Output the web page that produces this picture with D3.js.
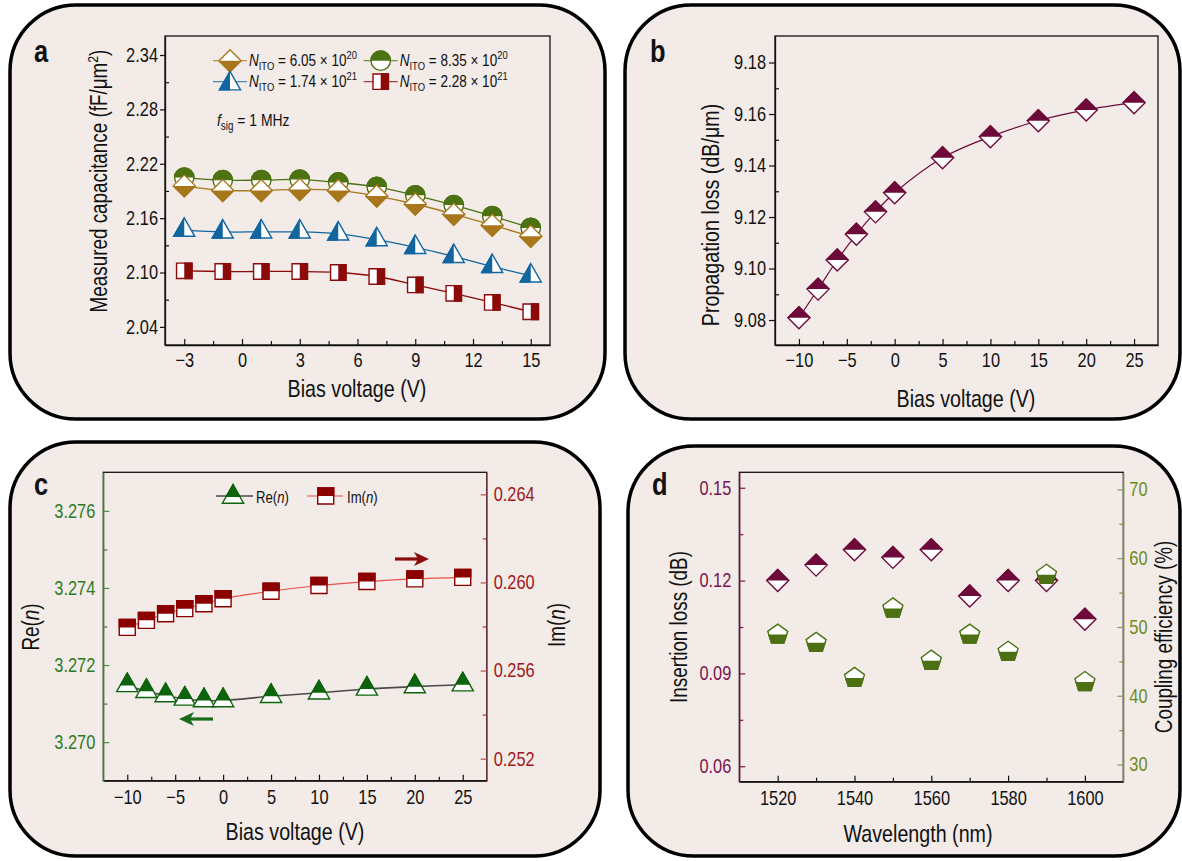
<!DOCTYPE html>
<html lang="en">
<head>
  <meta charset="utf-8"/>
  <title>ITO modulator panels</title>
  <style>
    body { margin: 0; background: #fff; }
    svg text { font-family: "Liberation Sans Narrow", "Arial Narrow", "Liberation Sans", Arial, sans-serif; }
  </style>
</head>
<body>

<svg id="chart" width="1182" height="861"></svg>

<script src="https://cdn.jsdelivr.net/npm/d3@7/dist/d3.min.js"></script>
<script>

  // ---- data, panel a (capacitance vs bias)
  let biasA = [-3, -1, 1, 3, 5, 7, 9, 11, 13, 15];
  let cap605 = [2.1956, 2.1906, 2.1906, 2.1917, 2.1906, 2.1844, 2.1756, 2.1644, 2.1522, 2.1400];
  let cap835 = [2.2048, 2.2019, 2.2019, 2.2026, 2.1993, 2.1944, 2.1852, 2.1744, 2.1622, 2.1492];
  let cap174 = [2.1467, 2.1448, 2.1448, 2.1448, 2.1426, 2.1363, 2.1278, 2.1178, 2.1067, 2.0963];
  let cap228 = [2.1019, 2.1011, 2.1011, 2.1011, 2.1000, 2.0956, 2.0863, 2.0770, 2.0670, 2.0567];
  let ticksAx = [-3, 0, 3, 6, 9, 12, 15];
  let ticksAy = [2.04, 2.10, 2.16, 2.22, 2.28, 2.34];

  // ---- data, panel b (propagation loss)
  let biasB = [-10, -8, -6, -4, -2, 0, 5, 10, 15, 20, 25];
  let lossB = [9.0809, 9.0920, 9.1033, 9.1133, 9.1220, 9.1294, 9.1430, 9.1512, 9.1574, 9.1616, 9.1644];
  let ticksBx = [-10, -5, 0, 5, 10, 15, 20, 25];
  let ticksBy = [9.08, 9.10, 9.12, 9.14, 9.16, 9.18];

  // ---- data, panel c (refractive index)
  let biasC = [-10, -8, -6, -4, -2, 0, 5, 10, 15, 20, 25];
  let reN = [3.27147, 3.27132, 3.27121, 3.27112, 3.27108, 3.27108, 3.27119, 3.27128, 3.27138, 3.27144, 3.27149];
  let imN = [0.25796, 0.25828, 0.25858, 0.25881, 0.25903, 0.25926, 0.25960, 0.25986, 0.26004, 0.26016, 0.26023];
  let ticksCyL = [3.270, 3.272, 3.274, 3.276];
  let ticksCyR = [0.252, 0.256, 0.260, 0.264];

  // ---- data, panel d (insertion loss / coupling)
  let wavelength = [1520, 1530, 1540, 1550, 1560, 1570, 1580, 1590, 1600];
  let insertionLoss = [0.120, 0.125, 0.130, 0.1275, 0.130, 0.115, 0.120, 0.120, 0.1075];
  let couplingEff = [48.9, 47.7, 42.6, 52.7, 45.1, 48.9, 46.4, 57.6, 42.0];
  let ticksDx = [1520, 1540, 1560, 1580, 1600];
  let ticksDyL = [0.06, 0.09, 0.12, 0.15];
  let ticksDyR = [30, 40, 50, 60, 70];

  let legendA = [['6.05', '20'], ['8.35', '20'], ['1.74', '21'], ['2.28', '21']];

  let svg = d3.select('#chart');
  let bg = '#f2ebe8';
  let narrow = 0.82; // no narrow face installed, so squeeze the glyphs instead

  // half clip regions for the split markers
  let defs = svg.append('defs');
  [['top', -40, -40, 80, 40], ['bottom', -40, 0, 80, 40], ['left', -40, -40, 40, 80], ['right', 0, -40, 40, 80]]
    .forEach(function (c) {
      defs.append('clipPath').attr('id', 'half-' + c[0])
        .append('rect').attr('x', c[1]).attr('y', c[2]).attr('width', c[3]).attr('height', c[4]);
    });

  function shapePath(shape, s) {
    if (shape === 'diamond') return `M0,${-s}L${s},0L0,${s}L${-s},0Z`;
    if (shape === 'circle') return `M${-s},0A${s},${s} 0 1,1 ${s},0A${s},${s} 0 1,1 ${-s},0Z`;
    if (shape === 'square') return `M${-s},${-s}H${s}V${s}H${-s}Z`;
    if (shape === 'triangle') {
      let h = s * 1.75;
      return `M0,${-h * 2 / 3}L${s},${h / 3}L${-s},${h / 3}Z`;
    }
    if (shape === 'pentagon') {
      let pts = d3.range(5).map(function (k) {
        let a = -Math.PI / 2 + k * 2 * Math.PI / 5;
        return [s * Math.cos(a), s * Math.sin(a)];
      });
      return 'M' + pts.join('L') + 'Z';
    }
  }

  function drawMarker(g, cx, cy, m) {
    let node = g.append('g').attr('transform', `translate(${cx},${cy})`);
    let d = shapePath(m.shape, m.size);
    node.append('path').attr('d', d).attr('fill', '#fff')
      .attr('stroke', m.color).attr('stroke-width', 1.4);
    node.append('path').attr('d', d).attr('fill', m.color)
      .attr('stroke', m.color).attr('stroke-width', 1.4)
      .attr('clip-path', `url(#half-${m.half})`);
  }

  function drawSeries(g, xs, ys, x, y, m, lineColor, lineWidth) {
    let pts = xs.map((v, i) => [x(v), y(ys[i])]);
    if (lineColor) {
      g.append('path')
        .attr('d', d3.line().curve(d3.curveCatmullRom.alpha(0.5))(pts))
        .attr('fill', 'none').attr('stroke', lineColor).attr('stroke-width', lineWidth || 1.3);
    }
    pts.forEach(p => drawMarker(g, p[0], p[1], m));
  }

  function panelBox(x, y, w, h, r) {
    svg.append('rect').attr('x', x).attr('y', y).attr('width', w).attr('height', h)
      .attr('rx', r).attr('ry', r)
      .attr('fill', bg).attr('stroke', '#000').attr('stroke-width', 3.5);
  }

  function addAxis(axis, tx, ty, color, labelColor, size) {
    let sel = svg.append('g').attr('transform', `translate(${tx},${ty})`).call(axis);
    sel.attr('font-size', null).attr('font-family', null);
    sel.select('.domain').attr('stroke', color).attr('stroke-width', 1.3);
    sel.selectAll('.tick line').attr('stroke', color).attr('stroke-width', 1.2);
    sel.selectAll('.tick text').attr('fill', labelColor).style('font-size', (size || 20) + 'px');
    return sel;
  }

  function minorAxis(axis, tx, ty, color) {
    let sel = addAxis(axis.tickFormat('').tickSizeOuter(0), tx, ty, color, color);
    sel.select('.domain').remove();
    return sel;
  }

  function frame(x0, y0, x1, y1) {
    svg.append('rect').attr('x', x0).attr('y', y0).attr('width', x1 - x0).attr('height', y1 - y0)
      .attr('fill', 'none').attr('stroke', '#111').attr('stroke-width', 1.3);
  }

  function vLabel(x, y, size) {
    return svg.append('text').attr('transform', `translate(${x},${y}) rotate(-90)`)
      .attr('text-anchor', 'middle').style('font-size', size + 'px').attr('fill', '#111');
  }

  function hLabel(x, y, text) {
    svg.append('text').attr('x', x).attr('y', y).attr('text-anchor', 'middle')
      .style('font-size', '24px').attr('fill', '#111').text(text);
  }

  function panelLetter(x, y, t) {
    svg.append('text').attr('x', x).attr('y', y).style('font-size', '31px')
      .style('font-weight', 'bold').attr('fill', '#111').text(t);
  }

  function arrow(x0, x1, y, color) {
    let dir = x1 > x0 ? 1 : -1;
    svg.append('line').attr('x1', x0).attr('x2', x1 - dir * 8).attr('y1', y).attr('y2', y)
      .attr('stroke', color).attr('stroke-width', 3.2);
    svg.append('path')
      .attr('d', `M${x1},${y}L${x1 - dir * 15},${y - 7}L${x1 - dir * 11},${y}L${x1 - dir * 15},${y + 7}Z`)
      .attr('fill', color);
  }

  panelBox(10, 5, 595, 414, 66);
  panelBox(625, 5, 555, 414, 66);
  panelBox(10, 442, 590, 414, 66);
  panelBox(628, 446, 552, 410, 66);

  // ================= panel a
  let xA = d3.scaleLinear().domain([-4, 16]).range([165, 550]);
  let yA = d3.scaleLinear().domain([2.02, 2.361]).range([345, 36]);
  frame(165, 36, 550, 345);
  minorAxis(d3.axisBottom(xA).tickValues(d3.range(-1.5, 15, 3)).tickSize(-4), 0, 345, '#111');
  minorAxis(d3.axisLeft(yA).tickValues(d3.range(2.07, 2.35, 0.06)).tickSize(-4), 165, 0, '#111');
  addAxis(d3.axisBottom(xA).tickValues(ticksAx).tickSize(-6).tickSizeOuter(0).tickPadding(8)
    .tickFormat(d3.format('d')), 0, 345, '#111', '#111');
  addAxis(d3.axisLeft(yA).tickValues(ticksAy).tickSize(5).tickSizeOuter(0).tickPadding(2)
    .tickFormat(d3.format('.2f')), 165, 0, '#111', '#111');

  let gA = svg.append('g');
  let mA = {
    d605: {shape: 'diamond', size: 11, color: '#a8771c', half: 'bottom'},
    d835: {shape: 'circle', size: 9.7, color: '#4d7212', half: 'top'},
    d174: {shape: 'triangle', size: 10.5, color: '#1266a0', half: 'left'},
    d228: {shape: 'square', size: 7.7, color: '#8b0a0a', half: 'right'}
  };
  drawSeries(gA, biasA, cap835, xA, yA, mA.d835, mA.d835.color);
  drawSeries(gA, biasA, cap605, xA, yA, mA.d605, mA.d605.color);
  drawSeries(gA, biasA, cap174, xA, yA, mA.d174, mA.d174.color);
  drawSeries(gA, biasA, cap228, xA, yA, mA.d228, mA.d228.color);

  // legend a
  let legPos = [[230, 60.7, mA.d605], [380.7, 60.7, mA.d835], [230, 81.7, mA.d174], [380.7, 81.7, mA.d228]];
  legPos.forEach(function (p, i) {
    svg.append('line').attr('x1', p[0] - 17).attr('x2', p[0] + 17).attr('y1', p[1]).attr('y2', p[1])
      .attr('stroke', p[2].color).attr('stroke-width', 1.3).attr('opacity', 0.75);
    drawMarker(svg, p[0], p[1] + (p[2].shape === 'triangle' ? 2 : 0), p[2]);
    let t = svg.append('text').attr('x', p[0] + 19).attr('y', p[1] + 5.5)
      .style('font-size', '16.5px').attr('fill', '#111');
    t.append('tspan').style('font-style', 'italic').text('N');
    t.append('tspan').attr('dy', 3.5).style('font-size', '11.5px').text('ITO');
    t.append('tspan').attr('dy', -3.5).text(` = ${legendA[i][0]} × 10`);
    t.append('tspan').attr('dy', -7).style('font-size', '11.5px').text(legendA[i][1]);
  });
  let fs = svg.append('text').attr('x', 217).attr('y', 126).style('font-size', '17px').attr('fill', '#111');
  fs.append('tspan').style('font-style', 'italic').text('f');
  fs.append('tspan').attr('dy', 4).style('font-size', '12px').text('sig');
  fs.append('tspan').attr('dy', -4).text(' = 1 MHz');

  let la = vLabel(107, 181, 23);
  la.append('tspan').text('Measured capacitance (fF/μm');
  la.append('tspan').attr('dy', -9).style('font-size', '15px').text('2');
  la.append('tspan').attr('dy', 9).text(')');
  hLabel(357, 397, 'Bias voltage (V)');
  panelLetter(34, 62, 'a');

  // ================= panel b
  let xB = d3.scaleLinear().domain([-12.5, 27.5]).range([775, 1158]);
  let yB = d3.scaleLinear().domain([9.0703, 9.1903]).range([345, 36]);
  frame(775, 36, 1158, 345);
  minorAxis(d3.axisBottom(xB).tickValues(d3.range(-7.5, 25, 5)).tickSize(-4), 0, 345, '#111');
  minorAxis(d3.axisLeft(yB).tickValues(d3.range(9.09, 9.19, 0.02)).tickSize(-4), 775, 0, '#111');
  addAxis(d3.axisBottom(xB).tickValues(ticksBx).tickSize(-6).tickSizeOuter(0).tickPadding(8)
    .tickFormat(d3.format('d')), 0, 345, '#111', '#111');
  addAxis(d3.axisLeft(yB).tickValues(ticksBy).tickSize(6).tickSizeOuter(0).tickPadding(3)
    .tickFormat(d3.format('.2f')), 775, 0, '#111', '#111');
  let gB = svg.append('g');
  drawSeries(gB, biasB, lossB, xB, yB, {shape: 'diamond', size: 11, color: '#6e0a3a', half: 'top'}, '#6e0a3a', 1.2);
  let lb = vLabel(719, 215, 24);
  lb.text('Propagation loss (dB/μm)');
  hLabel(966, 407, 'Bias voltage (V)');
  panelLetter(650, 62, 'b');

  // ================= panel c
  let xC = d3.scaleLinear().domain([-12.5, 27.5]).range([103.3, 486.7]);
  let yCL = d3.scaleLinear().domain([3.269, 3.277]).range([780.7, 472.3]);
  let yCR = d3.scaleLinear().domain([0.251, 0.265]).range([780.7, 472.3]);
  frame(103.3, 472.3, 486.7, 780.7);
  minorAxis(d3.axisBottom(xC).tickValues(d3.range(-7.5, 25, 5)).tickSize(-4), 0, 780.7, '#111');
  minorAxis(d3.axisLeft(yCL).tickValues([3.271, 3.273, 3.275]).tickSize(-4), 103.3, 0, '#3b7a2e');
  minorAxis(d3.axisRight(yCR).tickValues([0.254, 0.258, 0.262]).tickSize(-4), 486.7, 0, '#a33');
  addAxis(d3.axisBottom(xC).tickValues(ticksBx).tickSize(-6).tickSizeOuter(0).tickPadding(9)
    .tickFormat(d3.format('d')), 0, 780.7, '#111', '#111');
  addAxis(d3.axisLeft(yCL).tickValues(ticksCyL).tickSize(-6).tickSizeOuter(0).tickPadding(8)
    .tickFormat(d3.format('.3f')), 103.3, 0, '#4f8a45', '#2f7a1f');
  addAxis(d3.axisRight(yCR).tickValues(ticksCyR).tickSize(-6).tickSizeOuter(0).tickPadding(7)
    .tickFormat(d3.format('.3f')), 486.7, 0, '#b05555', '#a01818');

  let gC = svg.append('g');
  let mRe = {shape: 'triangle', size: 10.6, color: '#0d640d', half: 'top'};
  let mIm = {shape: 'square', size: 8, color: '#8b0000', half: 'top'};
  drawSeries(gC, biasC, reN, xC, yCL, mRe, '#4a4a4a', 1.6);
  drawSeries(gC, biasC, imN, xC, yCR, mIm, '#e8504a', 1.2);

  // legend c
  svg.append('line').attr('x1', 216).attr('x2', 253).attr('y1', 496).attr('y2', 496)
    .attr('stroke', '#4a4a4a').attr('stroke-width', 1.6);
  drawMarker(svg, 233, 497, mRe);
  svg.append('line').attr('x1', 307).attr('x2', 343).attr('y1', 496).attr('y2', 496)
    .attr('stroke', '#e8504a').attr('stroke-width', 1.2);
  drawMarker(svg, 325.7, 496, mIm);
  let tRe = svg.append('text').attr('x', 256).attr('y', 503).style('font-size', '16px').attr('fill', '#111');
  tRe.append('tspan').text('Re(');
  tRe.append('tspan').style('font-style', 'italic').text('n');
  tRe.append('tspan').text(')');
  let tIm = svg.append('text').attr('x', 347).attr('y', 503).style('font-size', '16px').attr('fill', '#111');
  tIm.append('tspan').text('Im(');
  tIm.append('tspan').style('font-style', 'italic').text('n');
  tIm.append('tspan').text(')');

  arrow(395, 429, 559, '#8b0a0a');
  arrow(213, 179, 719, '#1a6b1a');

  let lcL = vLabel(39, 627, 23);
  lcL.append('tspan').text('Re(');
  lcL.append('tspan').style('font-style', 'italic').text('n');
  lcL.append('tspan').text(')');
  let lcR = vLabel(565, 625, 23);
  lcR.append('tspan').text('Im(');
  lcR.append('tspan').style('font-style', 'italic').text('n');
  lcR.append('tspan').text(')');
  hLabel(295, 840, 'Bias voltage (V)');
  panelLetter(34, 495, 'c');

  // ================= panel d
  let xD = d3.scaleLinear().domain([1510, 1610]).range([739.3, 1123.3]);
  let yDL = d3.scaleLinear().domain([0.055, 0.155]).range([781.7, 472.3]);
  let yDR = d3.scaleLinear().domain([27.5, 72.5]).range([781.7, 472.3]);
  frame(739.3, 472.3, 1123.3, 781.7);
  minorAxis(d3.axisBottom(xD).tickValues([1530, 1550, 1570, 1590]).tickSize(-4), 0, 781.7, '#111');
  minorAxis(d3.axisLeft(yDL).tickValues([0.075, 0.105, 0.135]).tickSize(-4), 739.3, 0, '#7b1450');
  minorAxis(d3.axisRight(yDR).tickValues([35, 45, 55, 65]).tickSize(-4), 1123.3, 0, '#7f9244');
  addAxis(d3.axisBottom(xD).tickValues(ticksDx).tickSize(-6).tickSizeOuter(0).tickPadding(9)
    .tickFormat(d3.format('d')), 0, 781.7, '#111', '#111');
  addAxis(d3.axisLeft(yDL).tickValues(ticksDyL).tickSize(-6).tickSizeOuter(0).tickPadding(8)
    .tickFormat(d3.format('.2f')), 739.3, 0, '#7b1450', '#7b1450');
  addAxis(d3.axisRight(yDR).tickValues(ticksDyR).tickSize(-6).tickSizeOuter(0).tickPadding(6)
    .tickFormat(d3.format('d')), 1123.3, 0, '#8a9a5a', '#6b8c23');

  let gD = svg.append('g');
  drawSeries(gD, wavelength, insertionLoss, xD, yDL, {shape: 'diamond', size: 11, color: '#6e0a3a', half: 'top'});
  drawSeries(gD, wavelength, couplingEff, xD, yDR, {shape: 'pentagon', size: 10.5, color: '#4e7014', half: 'bottom'});

  vLabel(687, 627, 23).text('Insertion loss (dB)');
  vLabel(1172, 637, 23).text('Coupling efficiency (%)');
  hLabel(918, 842, 'Wavelength (nm)');
  panelLetter(652, 495, 'd');

  // squeeze every text along its own writing direction, around its anchor x
  svg.selectAll('text').each(function () {
    let t = d3.select(this);
    let x = +t.attr('x') || 0;
    let base = t.attr('transform') || '';
    t.attr('transform', `${base} translate(${x},0) scale(${narrow},1) translate(${-x},0)`);
  });

</script>

</body>
</html>
